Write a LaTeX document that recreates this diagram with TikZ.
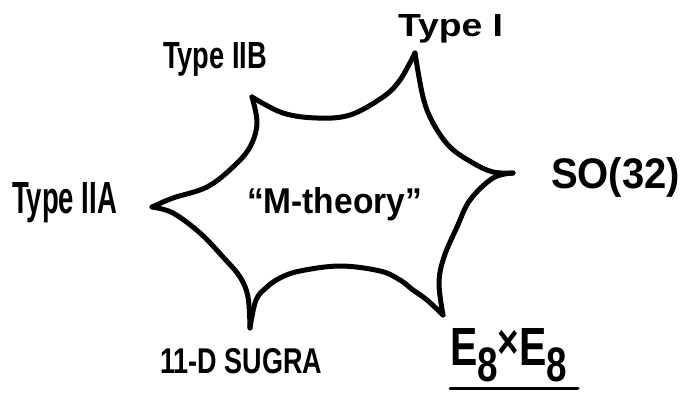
\documentclass[tikz,border=0pt]{standalone}
\usepackage{fontspec}
\usepackage{graphicx}
\setmainfont{Liberation Sans}
\tikzset{
  star/.style={line width=5pt, line cap=round, line join=round},
  lbl/.style={anchor=base west, inner sep=0pt, outer sep=0pt},
}
\newcommand{\hw}[3]{\resizebox{#1pt}{#2pt}{\bfseries #3}}
\newcommand{\lowe}{\raisebox{-0.3em}{\small 8}}
\begin{document}
\begin{tikzpicture}[x=1pt,y=-1pt]
\useasboundingbox (0,0) rectangle (683,394);
% cusps
\coordinate (cI) at (415,53);
\coordinate (cSO) at (513,173);
\coordinate (cE) at (443,315);
\coordinate (cS) at (250,328);
\coordinate (cA) at (152,207);
\coordinate (cB) at (252,97);
% star edges
\draw[star] plot[smooth,tension=0.6] coordinates {(cI) (423,97) (433,123) (450,147) (473,163) (493,172) (cSO)};
\draw[star] plot[smooth,tension=0.6] coordinates {(cSO) (493,178) (470,200) (457,227) (444,257) (439,283) (cE)};
\draw[star] plot[smooth,tension=0.6] coordinates {(cE) (427,300) (413,290) (400,280) (380,271) (340,266) (300,271) (280,278) (267,287) (256,300) (cS)};
\draw[star] plot[smooth,tension=0.6] coordinates {(cS) (248,297) (240,277) (223,257) (200,233) (173,213) (cA)};
\draw[star] plot[smooth,tension=0.6] coordinates {(cA) (173,198) (207,187) (233,167) (250,147) (257,123) (cB)};
\draw[star] plot[smooth,tension=0.6] coordinates {(cB) (283,113) (317,118) (350,115) (383,97) (400,80) (cI)};
% labels
\node[lbl] (tI) at (398,36) {\hw{105}{22}{Type I}};
\node[lbl] (tIIB) at (163,68) {\hw{104}{26}{Type IIB}};
\node[lbl] (tIIA) at (12,213) {\hw{105}{31}{Type IIA}};
\node[lbl] (tSO) at (551,188) {\hw{129}{31}{SO(32)}};
\node[lbl] (tS) at (160,373) {\hw{162}{25}{11-D SUGRA}};
\node[lbl] (tM) at (247,213) {\hw{175}{26}{``M-theory''}};
\node[lbl] (tE) at (450,365) {\hw{117}{37}{E\lowe\raisebox{0.12em}{\small ×}E\lowe}};
\coordinate (ul1) at (450,388);
\coordinate (ul2) at (578,388);
\draw[line width=3pt, line cap=round] (ul1) -- (ul2);
\end{tikzpicture}
\end{document}
